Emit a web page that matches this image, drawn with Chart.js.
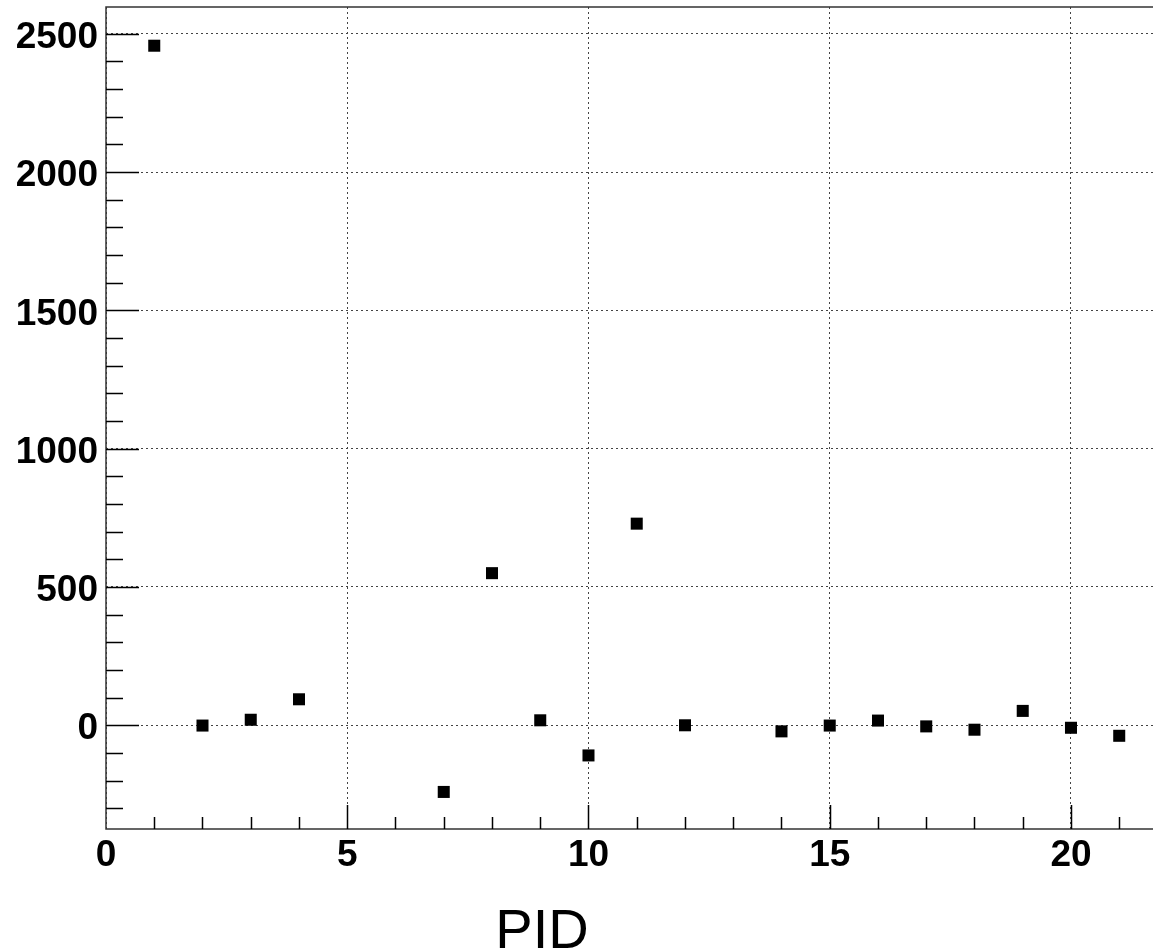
<!DOCTYPE html>
<html>
<head>
<meta charset="utf-8">
<script src="https://cdn.jsdelivr.net/npm/chart.js@4/dist/chart.umd.min.js"></script>
<style>
  html, body { margin: 0; padding: 0; background: #fff; }
</style>
</head>
<body>
<canvas id="pidChart" width="1153" height="952"></canvas>
<script>
// values
var pidValues = [1, 2, 3, 4, 7, 8, 9, 10, 11, 12, 14, 15, 16, 17, 18, 19, 20, 21];
var counts = [2457, -1, 20, 94, -241, 550, 18, -109, 729, 0, -22, -1, 17, -4, -16, 52, -9, -38];
var xTicks = [0, 5, 10, 15, 20];
var yTicks = [0, 500, 1000, 1500, 2000, 2500];
var xTitle = 'PID';

var tickFont = { family: 'Liberation Sans, Arial, sans-serif', weight: 'bold', size: 37 };

// ROOT style frame: axis lines, major + minor ticks inside, and the x title
var rootFrame = {
    id: 'rootFrame',
    afterDraw: function (chart) {
        var ctx = chart.ctx;
        var a = chart.chartArea;
        var xs = chart.scales.x;
        var ys = chart.scales.y;
        ctx.save();
        ctx.strokeStyle = '#333';
        ctx.lineWidth = 1.5;

        // frame (right side is off the picture)
        ctx.beginPath();
        ctx.moveTo(a.right, a.top);
        ctx.lineTo(a.left, a.top);
        ctx.lineTo(a.left, a.bottom);
        ctx.lineTo(a.right, a.bottom);
        ctx.stroke();

        ctx.strokeStyle = '#000';
        ctx.lineWidth = 1.5;
        ctx.beginPath();
        // y ticks every 100, long ones every 500
        for (var v = -300; v <= 2500; v += 100) {
            var py = Math.round(ys.getPixelForValue(v)) + 0.5;
            var len = (v % 500 === 0) ? 33 : 17;
            ctx.moveTo(a.left, py);
            ctx.lineTo(a.left + len, py);
        }
        // x ticks every 1, long ones every 5
        for (var u = 1; u <= 21; u++) {
            var px = Math.round(xs.getPixelForValue(u)) + 0.5;
            var l = (u % 5 === 0) ? 24 : 12;
            ctx.moveTo(px, a.bottom);
            ctx.lineTo(px, a.bottom - l);
        }
        ctx.stroke();

        ctx.fillStyle = '#000';
        ctx.font = '56px "Liberation Sans", Arial, sans-serif';
        ctx.textAlign = 'center';
        ctx.textBaseline = 'alphabetic';
        ctx.fillText(xTitle, 542, 948);
        ctx.restore();
    }
};

var ctx = document.getElementById('pidChart').getContext('2d');
var pidChart = new Chart(ctx, {
    type: 'scatter',
    data: {
        datasets: [{
            label: 'PID',
            data: pidValues.map(function (p, i) { return { x: p, y: counts[i] }; }),
            pointStyle: 'rect',
            pointRadius: 8.5,
            pointHoverRadius: 8.5,
            backgroundColor: '#000',
            borderColor: '#000',
            borderWidth: 0
        }]
    },
    options: {
        responsive: false,
        animation: false,
        layout: { autoPadding: false, padding: { top: 7, right: 0, bottom: 0, left: 0 } },
        plugins: {
            legend: { display: false },
            tooltip: { enabled: false }
        },
        scales: {
            x: {
                type: 'linear',
                min: 0,
                max: 21.7,
                afterBuildTicks: function (scale) {
                    scale.ticks = xTicks.map(function (v) { return { value: v }; });
                },
                afterFit: function (scale) {
                    scale.height = 123;
                    scale.paddingLeft = 0;
                    scale.paddingRight = 0;
                },
                ticks: {
                    font: tickFont,
                    color: '#000',
                    padding: 5,
                    maxRotation: 0,
                    autoSkip: false,
                    callback: function (v) { return String(v); }
                },
                grid: { color: '#444', lineWidth: 1, drawTicks: false },
                border: { display: false, dash: [2, 3] }
            },
            y: {
                type: 'linear',
                min: -375,
                max: 2597,
                afterBuildTicks: function (scale) {
                    scale.ticks = yTicks.map(function (v) { return { value: v }; });
                },
                afterFit: function (scale) {
                    scale.width = 106;
                    scale.paddingTop = 0;
                    scale.paddingBottom = 0;
                },
                ticks: {
                    font: tickFont,
                    color: '#000',
                    padding: 8,
                    labelOffset: 4,
                    autoSkip: false,
                    callback: function (v) { return String(v); }
                },
                grid: { color: '#444', lineWidth: 1, drawTicks: false },
                border: { display: false, dash: [2, 3] }
            }
        }
    },
    plugins: [rootFrame]
});
</script>
</body>
</html>
